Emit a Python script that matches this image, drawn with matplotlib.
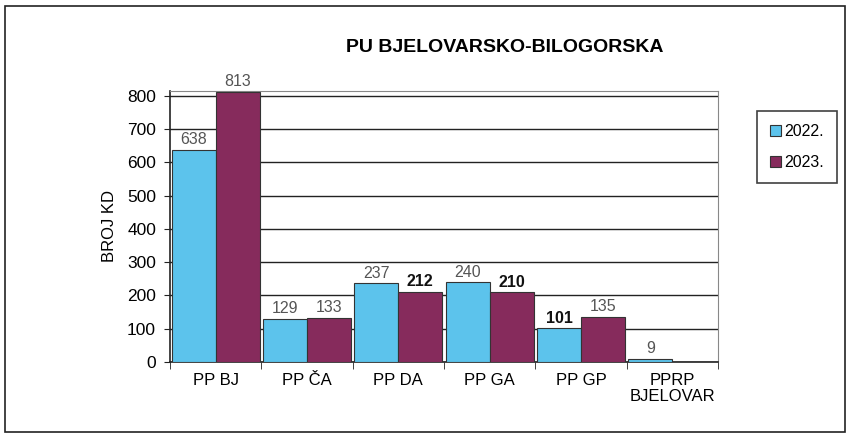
import numpy as np
import matplotlib
matplotlib.use("Agg")
import matplotlib.pyplot as plt
from matplotlib.patches import Rectangle

plt.rcParams['font.family'] = ['Liberation Sans Narrow', 'Liberation Sans', 'DejaVu Sans']

# --------------------------------- Data ---------------------------------------------------------
categories = ["PP BJ", "PP ČA", "PP DA", "PP GA", "PP GP", "PPRP\nBJELOVAR"]
vals_2022 = [638, 129, 237, 240, 101, 9]
vals_2023 = [813, 133, 212, 210, 135, 0]
bold_2022 = [False, False, False, False, True, False]
bold_2023 = [False, False, True, True, False, False]
yticks = [0, 100, 200, 300, 400, 500, 600, 700, 800]

c2022 = "#5cc3ec"
c2023 = "#862b5c"

W, H = 849, 438
fig = plt.figure(figsize=(W / 100, H / 100), dpi=100)
ax = fig.add_axes([170 / W, 1 - 362 / H, (718 - 170) / W, (362 - 91) / H])

x = np.arange(len(categories))
bw = 0.48
ax.bar(x - bw / 2, vals_2022, bw, color=c2022, edgecolor="#333333", linewidth=0.8, label="2022.", zorder=3)
ax.bar(x + bw / 2, [v if v > 0 else np.nan for v in vals_2023], bw, color=c2023,
       edgecolor="#333333", linewidth=0.8, label="2023.", zorder=3)

for xi, v, b in zip(x, vals_2022, bold_2022):
    ax.text(xi - bw / 2, v + 8, str(v), ha="center", va="bottom", fontsize=11.5,
            color="#111111" if b else "#555555", fontweight="bold" if b else "normal", zorder=4)
for xi, v, b in zip(x, vals_2023, bold_2023):
    if v == 0:
        continue
    ax.text(xi + bw / 2, v + 8, str(v), ha="center", va="bottom", fontsize=11.5,
            color="#111111" if b else "#555555", fontweight="bold" if b else "normal", zorder=4)

ax.set_xlim(-0.5, len(categories) - 0.5)
ax.set_ylim(0, 815)
ax.set_yticks(yticks)
ax.set_yticklabels([str(t) for t in yticks], fontsize=12.5)
ax.yaxis.grid(True, color="#222222", linewidth=1.0, zorder=0)
ax.set_axisbelow(True)
ax.set_xticks(x)
ax.set_xticklabels(categories, fontsize=12, linespacing=1.1)
ax.tick_params(axis="x", length=0, pad=8)
ax.set_xticks(np.arange(-0.5, len(categories)), minor=True)
ax.tick_params(axis="x", which="minor", length=5, color="#222222")
ax.tick_params(axis="y", length=4, color="#222222", pad=6)
for s in ["left", "bottom"]:
    ax.spines[s].set_color("#222222")
    ax.spines[s].set_linewidth(1.2)
for s in ["top", "right"]:
    ax.spines[s].set_color("#888888")
    ax.spines[s].set_linewidth(0.8)

ax.set_ylabel("BROJ KD", fontsize=12, labelpad=7)
fig.text(505 / W, 1 - 47 / H, "PU BJELOVARSKO-BILOGORSKA", ha="center", va="center",
         fontsize=14, fontweight="bold")

leg = fig.legend(loc="upper left", bbox_to_anchor=(749 / W, 1 - 103 / H), fontsize=11.5,
                 frameon=True, fancybox=False, edgecolor="#111111", handlelength=0.7,
                 handleheight=0.7, handletextpad=0.2, borderpad=0.8, labelspacing=1.0)
leg.get_frame().set_linewidth(1.2)

# outer border
fig.patches.append(Rectangle((5 / W, 6 / H), (845 - 5) / W, (432 - 6) / H, transform=fig.transFigure,
                             fill=False, edgecolor="#222222", linewidth=1.2))

fig.savefig("out.png", dpi=100)
